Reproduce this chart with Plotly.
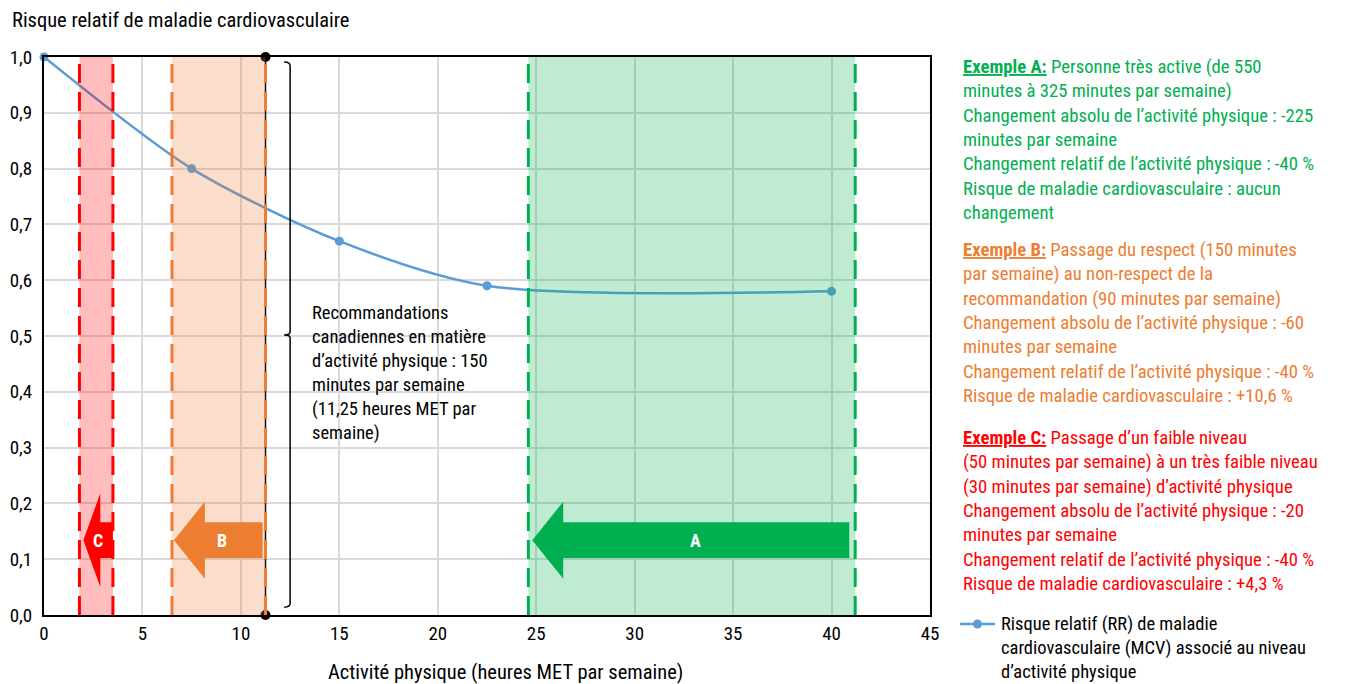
import plotly.graph_objects as go

# ---- data ----
met_hours = [0, 7.5, 15, 22.5, 40]
relative_risk = [1.0, 0.80, 0.67, 0.59, 0.58]

x_ticks = [0, 5, 10, 15, 20, 25, 30, 35, 40, 45]
y_ticks = [0.0, 0.1, 0.2, 0.3, 0.4, 0.5, 0.6, 0.7, 0.8, 0.9, 1.0]

zone_names = ["C", "B", "A"]
zone_left = [1.8, 6.5, 24.6]
zone_right = [3.5, 11.25, 41.2]
arrow_tip = [2.0, 6.6, 24.8]
arrow_tail = [3.5, 11.1, 40.9]
arrow_label_x = [2.75, 9.05, 33.1]
arrow_y = 0.134

guideline_met = 11.25

series_name = "Risque relatif (RR) de maladie<br>cardiovasculaire (MCV) associé au niveau<br>d’activité physique"

zone_line = ["#ff0000", "#ed7d31", "#00b050"]
zone_fill = ["rgba(255,0,0,0.26)", "rgba(237,125,49,0.26)", "rgba(0,176,80,0.25)"]
arrow_color = ["#ff0000", "#ed7d31", "#00b050"]
line_color = "#5b9bd5"

FONT = "Liberation Sans Narrow, Roboto Condensed, Arial Narrow, Roboto, sans-serif"

# plot-area geometry helpers (screen px -> paper)
PL, PR, PT, PB = 44, 930, 57, 615
def px_x(p):
    return (p - PL) / (PR - PL)
def px_y(p):
    return (PB - p) / (PB - PT)

fig = go.Figure()

fig.add_trace(go.Scatter(
    x=met_hours, y=relative_risk, mode="lines+markers",
    line=dict(color=line_color, width=2.5, shape="spline", smoothing=0.8),
    marker=dict(size=9, color=line_color),
    cliponaxis=False, showlegend=False,
    name=series_name,
))

# guideline vertical line with end dots
fig.add_trace(go.Scatter(
    x=[guideline_met, guideline_met], y=[0.0, 1.0], mode="lines+markers",
    line=dict(color="black", width=1.5),
    marker=dict(size=10, color="black"),
    cliponaxis=False, showlegend=False, hoverinfo="skip",
))

shapes = []
for i in range(3):
    shapes.append(dict(type="rect", xref="x", yref="y", x0=zone_left[i], x1=zone_right[i],
                       y0=0, y1=1, fillcolor=zone_fill[i], line=dict(width=0), layer="above"))
    for xv in (zone_left[i], zone_right[i]):
        shapes.append(dict(type="line", xref="x", yref="y", x0=xv, x1=xv, y0=0, y1=1,
                           line=dict(color=zone_line[i], width=3, dash="19px,9px"), layer="above"))

# arrows
head_len = [0.86, 1.57, 1.57]
head_h = [0.084, 0.069, 0.069]
body_h = 0.032
for i in range(3):
    tip = arrow_tip[i]
    base = tip + head_len[i]
    tail = arrow_tail[i]
    y = arrow_y
    hh = head_h[i]
    path = (f"M {tip} {y} L {base} {y+hh} L {base} {y+body_h} L {tail} {y+body_h} "
            f"L {tail} {y-body_h} L {base} {y-body_h} L {base} {y-hh} Z")
    shapes.append(dict(type="path", xref="x", yref="y", path=path,
                       fillcolor=arrow_color[i], line=dict(width=0), layer="above"))

# bracket
bx = 12.5
shapes.append(dict(type="path", xref="x", yref="y",
                   path=f"M {bx-0.3} 0.991 Q {bx} 0.991 {bx} 0.984 L {bx} 0.507 Q {bx} 0.502 {bx-0.3} 0.502 "
                        f"Q {bx} 0.502 {bx} 0.497 L {bx} 0.021 Q {bx} 0.014 {bx-0.3} 0.014",
                   line=dict(color="black", width=1.5), layer="above"))

# manual legend key
leg_y = px_y(624)
shapes.append(dict(type="line", xref="paper", yref="paper", x0=px_x(960), x1=px_x(995), y0=leg_y, y1=leg_y,
                   line=dict(color=line_color, width=2.5)))
shapes.append(dict(type="circle", xref="paper", yref="paper", xsizemode="pixel", ysizemode="pixel",
                   xanchor=px_x(977.5), yanchor=leg_y, x0=-4.5, x1=4.5, y0=-4.5, y1=4.5,
                   fillcolor=line_color, line=dict(width=0)))

annotations = []
for i in range(3):
    annotations.append(dict(x=arrow_label_x[i], y=arrow_y, xref="x", yref="y", text=f"<b>{zone_names[i]}</b>",
                            showarrow=False, font=dict(color="white", size=18, family=FONT)))

annotations.append(dict(x=13.5, y=0.565, xref="x", yref="y", xanchor="left", yanchor="top", align="left",
                        showarrow=False, font=dict(size=18.5, color="black", family=FONT),
                        text="Recommandations<br>canadiennes en matière<br>d’activité physique : 150<br>"
                             "minutes par semaine<br>(11,25 heures MET par<br>semaine)"))

annotations.append(dict(x=px_x(10), y=px_y(20), xref="paper", yref="paper", xanchor="left", yanchor="middle",
                        showarrow=False, text="Risque relatif de maladie cardiovasculaire",
                        font=dict(size=20.5, color="black", family=FONT)))

annotations.append(dict(x=px_x(505), y=px_y(672), xref="paper", yref="paper", xanchor="center", yanchor="middle",
                        showarrow=False, text="Activité physique (heures MET par semaine)",
                        font=dict(size=20.5, color="black", family=FONT)))

annotations.append(dict(x=px_x(999), y=px_y(611), xref="paper", yref="paper", xanchor="left", yanchor="top",
                        align="left", showarrow=False, text=series_name,
                        font=dict(size=18.5, color="black", family=FONT)))

text_a = ("<b><u>Exemple A:</u></b> Personne très active (de 550<br>minutes à 325 minutes par semaine)<br>"
          "Changement absolu de l’activité physique : -225<br>minutes par semaine<br>"
          "Changement relatif de l’activité physique : -40 %<br>Risque de maladie cardiovasculaire : aucun<br>changement")
text_b = ("<b><u>Exemple B:</u></b> Passage du respect (150 minutes<br>par semaine) au non-respect de la<br>"
          "recommandation (90 minutes par semaine)<br>Changement absolu de l’activité physique : -60<br>"
          "minutes par semaine<br>Changement relatif de l’activité physique : -40 %<br>Risque de maladie cardiovasculaire : +10,6 %")
text_c = ("<b><u>Exemple C:</u></b> Passage d’un faible niveau<br>(50 minutes par semaine) à un très faible niveau<br>"
          "(30 minutes par semaine) d’activité physique<br>Changement absolu de l’activité physique : -20<br>"
          "minutes par semaine<br>Changement relatif de l’activité physique : -40 %<br>Risque de maladie cardiovasculaire : +4,3 %")
for txt, col, top in [(text_a, "#00b050", 54), (text_b, "#ed7d31", 237), (text_c, "#ff0000", 425)]:
    annotations.append(dict(x=px_x(961), y=px_y(top), xref="paper", yref="paper", xanchor="left", yanchor="top",
                            align="left", showarrow=False, text=txt,
                            font=dict(size=18.7, color=col, family=FONT)))

fig.update_layout(
    width=1344, height=676,
    margin=dict(l=36, r=422, t=49, b=69),
    plot_bgcolor="white", paper_bgcolor="white",
    separators=", ",
    font=dict(family=FONT, size=18, color="black"),
    shapes=shapes, annotations=annotations,
    showlegend=False,
)
fig.update_xaxes(range=[0, 45], tickvals=x_ticks, showgrid=True, gridcolor="#d9d9d9", gridwidth=1.5,
                 showline=True, linecolor="black", linewidth=2, mirror=True, ticks="",
                 zeroline=False, tickfont=dict(size=19), automargin=False)
fig.update_yaxes(range=[0, 1.0], tickvals=y_ticks, tickformat=".1f", showgrid=True, gridcolor="#d9d9d9",
                 gridwidth=1.5, showline=True, linecolor="black", linewidth=2, mirror=True, ticks="",
                 zeroline=False, tickfont=dict(size=19), automargin=False, ticklabelstandoff=6)

fig.write_html("out.html")
